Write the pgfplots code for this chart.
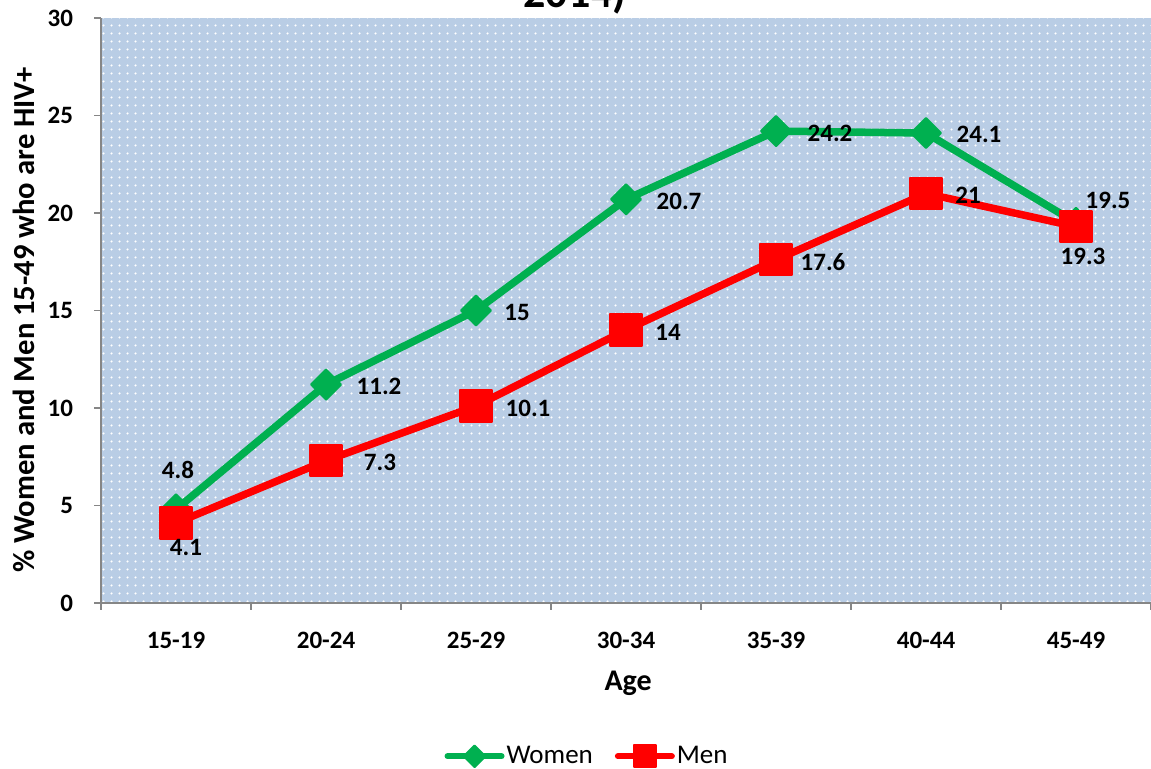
\documentclass[border=0pt]{standalone}
\usepackage{fontspec}
\setmainfont{Carlito}
\usepackage{pgfplots}
\usepackage{pgfplotstable}
\pgfplotsset{compat=1.18}
\usetikzlibrary{patterns.meta}

\definecolor{womengreen}{HTML}{00B050}
\definecolor{menred}{HTML}{FF0000}
\definecolor{bgblue}{HTML}{B9CDE5}
\definecolor{axisgray}{HTML}{868686}

% x = age group index, dx/dy = label offset in pt
\pgfplotstableread{
x y    dx   dy
0 4.8  1    19.5
1 11.2 26.5 -1
2 15   20.5 -1
3 20.7 26.5 -1
4 24.2 27   -1
5 24.1 26.5 -0.5
6 19.5 16   11
}\women

\pgfplotstableread{
x y    dx   dy
0 4.1  5    -12
1 7.3  27   -1
2 10.1 26   -1
3 14   21   -1
4 17.6 23.5 -1
5 21   21   -1
6 19.3 3.5  -15
}\men

\begin{document}
\begin{tikzpicture}
\useasboundingbox (0,0) rectangle (575.5pt,384.5pt);
\node[anchor=base, font=\bfseries\fontsize{22}{26}\selectfont] at (287.5pt,380.5pt) {2014)};
\begin{axis}[
  at={(50.5pt,83pt)}, anchor=south west,
  scale only axis, width=525pt, height=292.5pt,
  xmin=-0.5, xmax=6.5, ymin=0, ymax=30,
  axis x line*=bottom, axis y line*=left,
  axis line style={axisgray, line width=0.75pt},
  axis background/.style={fill=bgblue, postaction={pattern={Dots[distance=4pt, radius=0.65pt]}, pattern color=white}},
  xtick={-0.5,0.5,...,6.5},
  x tick label as interval,
  xticklabels={15-19,20-24,25-29,30-34,35-39,40-44,45-49},
  ytick={0,5,...,30},
  tick align=outside,
  major tick length=3.5pt,
  tick style={axisgray, line width=0.75pt},
  /pgf/number format/assume math mode=true,
  ticklabel style={font=\bfseries\fontsize{12.5}{15}\selectfont},
  xticklabel style={yshift=-7.5pt},
  yticklabel style={xshift=-7pt},
  xlabel={Age},
  xlabel style={at={(axis description cs:0.502,-0.1375)}, anchor=center, font=\bfseries\fontsize{15}{18}\selectfont},
  ylabel={\% Women and Men 15-49 who are HIV+},
  ylabel style={at={(axis description cs:-0.0735,0.484)}, anchor=center, font=\bfseries\fontsize{15.3}{18}\selectfont},
  legend style={at={(axis description cs:0.4629,-0.262)}, anchor=center, draw=none, fill=none,
    legend columns=2, font=\fontsize{13.5}{16}\selectfont,
    nodes={inner xsep=1pt},
    /tikz/every even column/.append style={column sep=10pt}},
  legend image code/.code={\draw[mark repeat=2,mark phase=2,line width=3pt,
    /tikz/every mark/.append style={scale=0.72}]
    plot coordinates {(1.5pt,0pt) (15pt,0pt) (28.5pt,0pt)};},
  nodes near coords,
  visualization depends on={\thisrow{dx}\as\dx},
  visualization depends on={\thisrow{dy}\as\dy},
  every node near coord/.append style={anchor=center, xshift=\dx pt, yshift=\dy pt,
    font=\bfseries\fontsize{12.5}{15}\selectfont, text=black},
]
\addplot[womengreen, line width=3.75pt, line join=round, line cap=round,
  mark=square*, mark size=5.3pt, mark options={rotate=45, line width=1pt, solid}]
  table[x=x, y=y] {\women};
\addlegendentry{Women}
\addplot[menred, line width=3.75pt, line join=round, line cap=round,
  mark=square*, mark size=7.8pt, mark options={line width=1pt, rounded corners=1.5pt, solid}]
  table[x=x, y=y] {\men};
\addlegendentry{Men}
\end{axis}
\end{tikzpicture}
\end{document}
